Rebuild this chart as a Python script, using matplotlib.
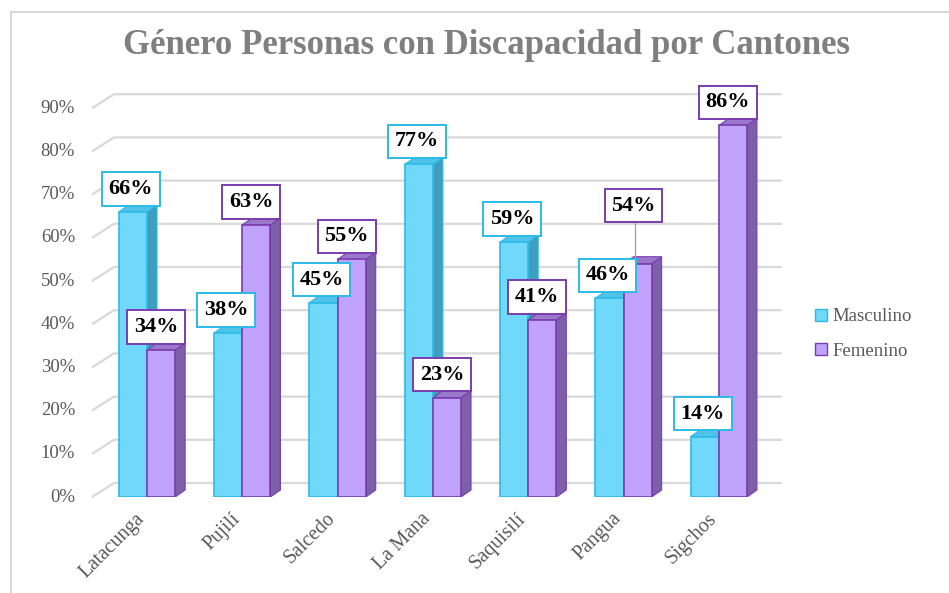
import matplotlib.pyplot as plt
from matplotlib.patches import Polygon
from matplotlib.lines import Line2D

cantones = ["Latacunga", "Pujilí", "Salcedo", "La Mana", "Saquisilí", "Pangua", "Sigchos"]
masculino = [0.66, 0.38, 0.45, 0.77, 0.59, 0.46, 0.14]
femenino = [0.34, 0.63, 0.55, 0.23, 0.41, 0.54, 0.86]
y_ticks = [0, 0.1, 0.2, 0.3, 0.4, 0.5, 0.6, 0.7, 0.8, 0.9]

W, H = 949, 593
fig = plt.figure(figsize=(W / 100, H / 100), dpi=100)
plt.rcParams['font.family'] = ['Liberation Serif', 'DejaVu Serif']

# axes placed in pixel terms
px_left, px_right, px_bottom, px_top = 92, 782, 497, 85
ppy = 432             # pixels per 100%
ax = fig.add_axes([px_left / W, 1 - px_bottom / H, (px_right - px_left) / W, (px_bottom - px_top) / H])
x0_px, step_px = 147, 95.3
xmin = (px_left - x0_px) / step_px
xmax = (px_right - x0_px) / step_px
ymax = (px_bottom - px_top) / ppy
ax.set_xlim(xmin, xmax)
ax.set_ylim(0, ymax)
ax.axis('off')

ux = 1 / step_px      # data units per pixel (x)
uy = 1 / ppy          # data units per pixel (y)

# back-wall gridlines with slanted left segment
gdx, gdy = 22 * ux, 14 * uy
for v in y_ticks:
    ax.plot([xmin, xmin + gdx, xmax], [v, v + gdy, v + gdy], color='#d9d9d9', lw=1.6,
            zorder=1, solid_capstyle='butt', clip_on=False)
    ax.text(xmin - 17 * ux, v, f"{int(round(v * 100))}%", ha='right', va='center',
            fontsize=13.5, color='#595959')

bw = 0.295
ddx, ddy = 10 * ux, 7 * uy
styles = {
    'M': dict(front='#6fd8fb', side='#3f9dbd', top='#52c3e8', edge='#2bbbe6'),
    'F': dict(front='#c0a2fa', side='#7c60a8', top='#9a78cc', edge='#7a3db0'),
}


def draw_bar(xl, h, st):
    ax.bar(xl, h, width=bw, align='edge', color=st['front'], edgecolor=st['edge'],
           lw=1.2, zorder=3)
    side = [(xl + bw, 0), (xl + bw + ddx, ddy), (xl + bw + ddx, h + ddy), (xl + bw, h)]
    top = [(xl, h), (xl + ddx, h + ddy), (xl + bw + ddx, h + ddy), (xl + bw, h)]
    ax.add_patch(Polygon(side, closed=True, fc=st['side'], ec=st['edge'], lw=0.8, zorder=2.9))
    ax.add_patch(Polygon(top, closed=True, fc=st['top'], ec=st['edge'], lw=0.8, zorder=2.9))


for i in range(len(cantones)):
    draw_bar(i - bw, masculino[i], styles['M'])
    draw_bar(i, femenino[i], styles['F'])

# value labels
def label(xc, h, st, off=23):
    ax.annotate(f"{int(round(h * 100))}%", (xc, h), xytext=(0, off * 0.72),
                textcoords='offset points', ha='center', va='center',
                fontsize=16, fontweight='bold', color='black', zorder=6,
                bbox=dict(boxstyle='square,pad=0.3', fc='white', ec=st['edge'], lw=1.4))


for i in range(len(cantones)):
    label(i - bw / 2 - 2 * ux, masculino[i], styles['M'])
    if cantones[i] == "Pangua":
        off = 58
        ax.plot([i + bw / 2 - 3 * ux] * 2, [femenino[i] + 4 * uy, femenino[i] + (off - 15) * uy],
                color='#a6a6a6', lw=1, zorder=5)
        label(i + bw / 2 - 4 * ux, femenino[i], styles['F'], off)
    else:
        label(i + bw / 2 - 5 * ux, femenino[i], styles['F'])

# category labels
for i, c in enumerate(cantones):
    ax.text(i - 5 * ux, -19 * uy, c, rotation=45, rotation_mode='anchor', ha='right',
            va='center', fontsize=14.5, color='#595959', clip_on=False)

fig.text(487 / W, 1 - 45 / H, "Género Personas con Discapacidad por Cantones", ha='center',
         va='center', fontsize=25, fontweight='bold', color='#7f7f7f')

# legend
handles = [
    Line2D([], [], marker='s', ls='', ms=9, mfc=styles['M']['front'], mec=styles['M']['edge'], label='Masculino'),
    Line2D([], [], marker='s', ls='', ms=9, mfc=styles['F']['front'], mec=styles['F']['edge'], label='Femenino'),
]
fig.legend(handles=handles, loc='center left', bbox_to_anchor=(795 / W, 1 - 334 / H),
           frameon=False, fontsize=13.5, labelcolor='#595959', handletextpad=0.1,
           labelspacing=0.95, handlelength=1.0)

# outer frame
fig.add_artist(Line2D([11 / W, 11 / W], [0, 1 - 12 / H], color='#d9d9d9', lw=1.5))
fig.add_artist(Line2D([11 / W, 1], [1 - 12 / H, 1 - 12 / H], color='#d9d9d9', lw=1.5))

fig.savefig('out.png', dpi=100)
